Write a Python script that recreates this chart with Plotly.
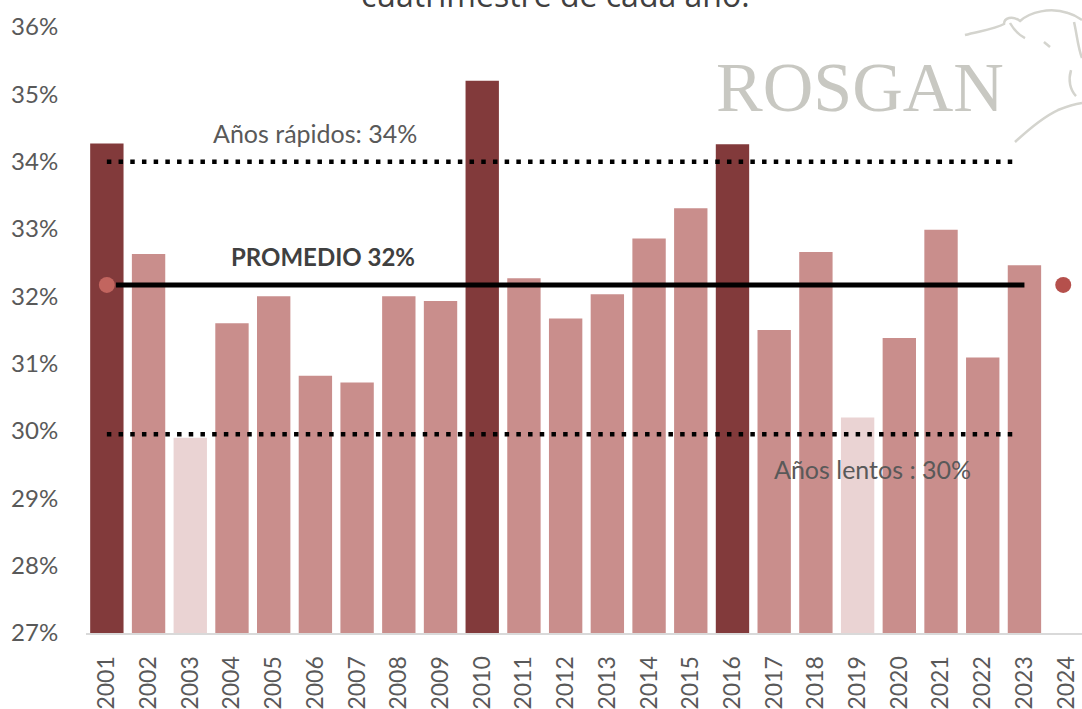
import plotly.graph_objects as go

years = list(range(2001, 2025))
year_labels = [str(y) for y in years]
values = [34.27, 32.63, 29.90, 31.60, 32.00, 30.82, 30.72, 32.00, 31.93, 35.20,
          32.27, 31.67, 32.03, 32.86, 33.31, 34.26, 31.50, 32.66, 30.20, 31.38,
          32.99, 31.09, 32.46, None]
kind = ['fast', 'normal', 'slow', 'normal', 'normal', 'normal', 'normal', 'normal', 'normal', 'fast',
        'normal', 'normal', 'normal', 'normal', 'normal', 'fast', 'normal', 'normal', 'slow', 'normal',
        'normal', 'normal', 'normal', 'normal']
fast_level = 34.0
slow_level = 29.95
avg_level = 32.17
ref_x = [2001, 2022.73]
avg_x = [2001.22, 2023.0]
dot_x_left = [2001]
dot_x_right = [2023.93]
y_ticks = [27, 28, 29, 30, 31, 32, 33, 34, 35, 36]
y_tick_labels = [f"{t}%" for t in y_ticks]

color_map = {'fast': '#823A3B', 'normal': '#C98E8C', 'slow': '#EAD3D3'}
bar_colors = [color_map[k] for k in kind]

# plot area in pixels (for logo decoration placement)
L, R, T, B = 86, 1082, 27, 633


def px(x, y):
    return ((x - L) / (R - L), (B - y) / (B - T))


def path(points):
    s = ""
    for cmd, *pts in points:
        s += cmd
        for j in range(0, len(pts), 2):
            xx, yy = px(pts[j], pts[j + 1])
            s += f" {xx:.4f},{yy:.4f}"
        s += " "
    return s.strip()


fig = go.Figure()
fig.add_trace(go.Bar(
    x=years, y=[v - 27 if v is not None else None for v in values], base=27,
    marker=dict(color=bar_colors, line=dict(width=0)),
    width=0.8, showlegend=False, hoverinfo='skip'))

dot_style = dict(color='black', width=4.5, dash='4.5px,7.2px')
fig.add_trace(go.Scatter(x=ref_x, y=[fast_level] * 2, mode='lines', line=dot_style,
                         showlegend=False, hoverinfo='skip'))
fig.add_trace(go.Scatter(x=ref_x, y=[slow_level] * 2, mode='lines', line=dot_style,
                         showlegend=False, hoverinfo='skip'))
fig.add_trace(go.Scatter(x=avg_x, y=[avg_level] * 2, mode='lines',
                         line=dict(color='black', width=5), showlegend=False, hoverinfo='skip'))
fig.add_trace(go.Scatter(x=dot_x_left, y=[avg_level], mode='markers',
                         marker=dict(color='#C2655F', size=16), showlegend=False, hoverinfo='skip'))
fig.add_trace(go.Scatter(x=dot_x_right, y=[avg_level], mode='markers',
                         marker=dict(color='#B5504C', size=16), showlegend=False, hoverinfo='skip'))

font = "Lato, 'Open Sans', sans-serif"
annotations = [
    dict(x=2005.99, y=34.42, text="Años rápidos: 34%", showarrow=False,
         font=dict(size=25, color='#595959', family=font)),
    dict(x=2006.18, y=32.59, text="<b>PROMEDIO 32%</b>", showarrow=False,
         font=dict(size=24, color='#404040', family=font)),
    dict(x=2019.35, y=29.43, text="Años lentos : 30%", showarrow=False,
         font=dict(size=25, color='#595959', family=font)),
    dict(x=0.471, xref='paper', xanchor='center', y=1.0, yref='paper', yanchor='bottom', yshift=9,
         text="cuatrimestre de cada año.", showarrow=False,
         font=dict(size=32, color='#404040', family="'Open Sans', sans-serif")),
    dict(x=0.777, xref='paper', xanchor='center', y=35.1, yref='y', text="ROSGAN", showarrow=False,
         font=dict(size=70, color='#C8C8C2', family="'Liberation Serif', 'DejaVu Serif', serif")),
]

logo_color = '#D4D4CE'
logo_paths = [
    [('M', 965, 35), ('C', 980, 31, 995, 29, 1004, 24), ('C', 1004, 18, 1012, 15, 1020, 21),
     ('C', 1030, 12, 1050, 7, 1068, 13), ('C', 1075, 15, 1079, 18, 1082, 20)],
    [('M', 1010, 23), ('C', 1014, 30, 1019, 35, 1025, 38)],
    [('M', 1074, 22), ('C', 1077, 35, 1078, 48, 1082, 58)],
    [('M', 1015, 142), ('C', 1030, 128, 1045, 116, 1058, 110), ('C', 1068, 106, 1075, 104, 1082, 103)],
    [('M', 1071, 70), ('C', 1068, 80, 1070, 90, 1076, 96)],
    [('M', 1044, 42), ('L', 1050, 47)],
]
shapes = [dict(type='path', xref='paper', yref='paper', path=path(p),
               line=dict(color=logo_color, width=2.5)) for p in logo_paths]

fig.update_layout(
    width=1082, height=709,
    margin=dict(l=L, r=1082 - R, t=T, b=709 - B),
    plot_bgcolor='white', paper_bgcolor='white',
    xaxis=dict(range=[2000.5, 2024.38], tickmode='array', tickvals=years, ticktext=year_labels,
               tickangle=-90, tickfont=dict(size=23, color='#595959', family=font),
               showgrid=False, showline=True, linecolor='#D9D9D9', linewidth=2,
               ticks='outside', ticklen=12, tickcolor='rgba(0,0,0,0)', zeroline=False,
               automargin=False),
    yaxis=dict(range=[27, 36], tickmode='array', tickvals=y_ticks, ticktext=y_tick_labels,
               tickfont=dict(size=24, color='#595959', family=font),
               showgrid=False, showline=False, zeroline=False, ticks='outside', ticklen=22,
               tickcolor='rgba(0,0,0,0)', automargin=False),
    annotations=annotations,
    shapes=shapes,
)

fig.write_html("out.html", config={'displayModeBar': False},
               post_script="document.body.style.margin='0';document.body.style.overflow='hidden';")
